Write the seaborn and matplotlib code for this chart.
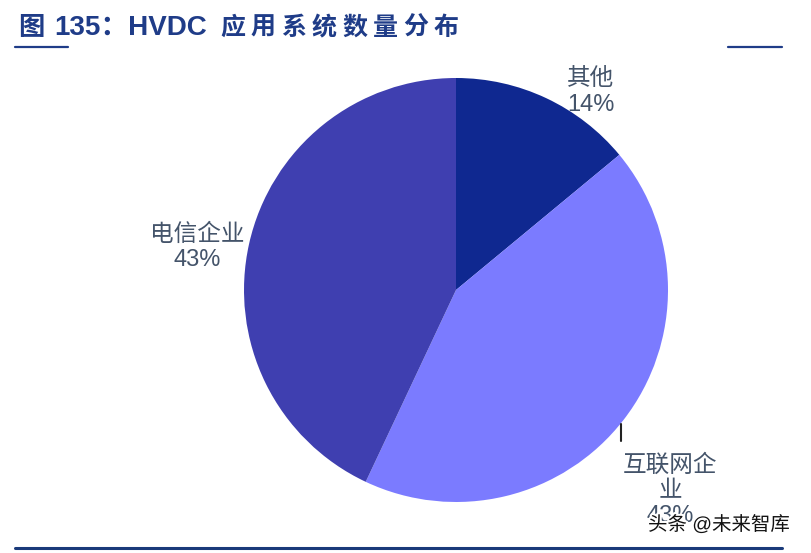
import matplotlib
matplotlib.use("Agg")
import matplotlib.pyplot as plt
import matplotlib.patheffects as pe
import seaborn as sns
import numpy as np

sns.set_theme(style="white")
plt.rcParams['font.family'] = ['Liberation Sans', 'Noto Sans CJK SC', 'DejaVu Sans']

# 数据
categories = ["其他", "互联网企\n业", "电信企业"]
shares = [14, 43, 43]
colors = ["#0f2890", "#7b7bff", "#3f3fb0"]
label_dist = [1.12, 1.38, 1.24]
label_shift = [(0.16, -0.08), (-0.08, -0.1), (-0.01, -0.07)]

fig = plt.figure(figsize=(8.11, 5.53), dpi=100)
W, H = 811, 553
cx, cy, r = 456, 290, 212
ax = fig.add_axes([(cx - r) / W, (H - cy - r) / H, 2 * r / W, 2 * r / H])

wedges, _ = ax.pie(shares, colors=colors, startangle=90, counterclock=False,
                   radius=1, wedgeprops=dict(linewidth=0))
ax.set_xlim(-1, 1)
ax.set_ylim(-1, 1)
ax.set_aspect("equal")
ax.axis("off")

for w, name, v, d, (sx, sy) in zip(wedges, categories, shares, label_dist, label_shift):
    ang = np.deg2rad((w.theta1 + w.theta2) / 2)
    x, y = d * np.cos(ang) + sx, d * np.sin(ang) + sy
    ax.text(x, y, f"{name}\n{v}%", ha="center", va="center", fontsize=17,
            color="#44546a", linespacing=1.2, clip_on=False)

# 小引线
ax.plot([0.78, 0.78], [-0.63, -0.71], color="#222222", lw=1.5, clip_on=False)

# 标题
title_color = "#1f3c88"
ty = 1 - 28 / H
fig.text(18 / W, ty, "图", fontsize=19, color=title_color, ha="left", va="center",
         fontweight="bold")
fig.text(54 / W, ty, "135：HVDC", fontsize=20, fontweight="bold", color=title_color,
         ha="left", va="center")
for i, ch in enumerate("应用系统数量分布"):
    fig.text((220 + i * 30.5) / W, ty, ch, fontsize=18, color=title_color,
             ha="left", va="center", fontweight="bold")
fig.add_artist(plt.Line2D([15 / W, 68 / W], [1 - 47 / H] * 2, color=title_color, lw=1.6))
fig.add_artist(plt.Line2D([728 / W, 782 / W], [1 - 47 / H] * 2, color=title_color, lw=1.6))
fig.add_artist(plt.Line2D([15 / W, 782 / W], [1 - 548 / H] * 2, color="#1a3a7a", lw=2.2))

# 水印
fig.text(648 / W, 1 - 525 / H, "头条 @未来智库", fontsize=14, color="#111111", ha="left", va="center",
         path_effects=[pe.withStroke(linewidth=3, foreground="white")])

fig.savefig("out.png", dpi=100)
